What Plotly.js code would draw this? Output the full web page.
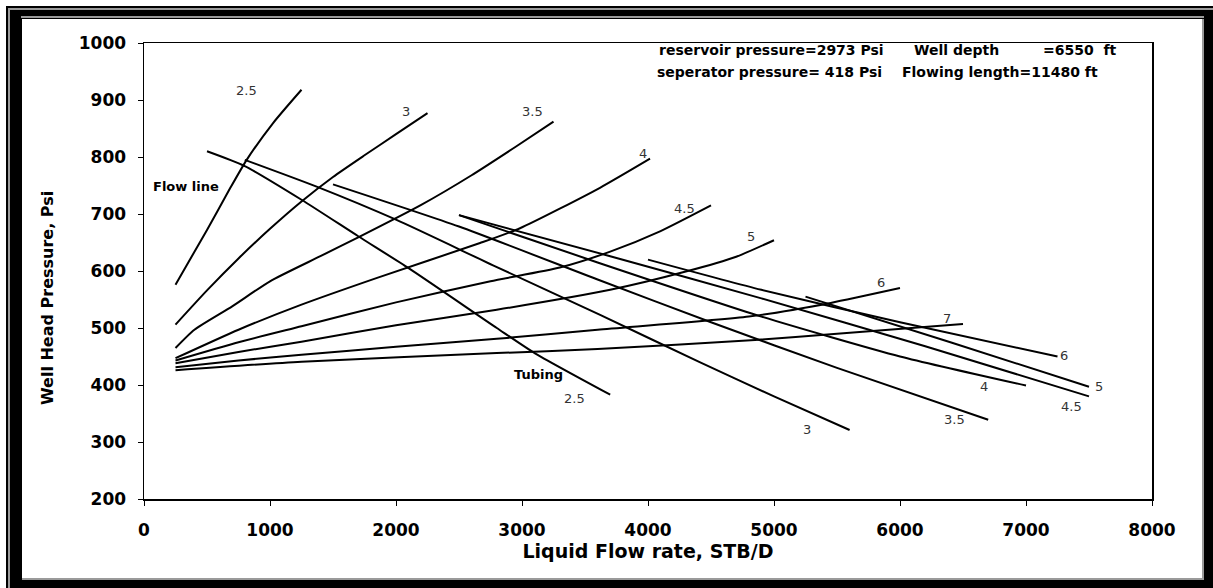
<!DOCTYPE html>
<html>
<head>
<meta charset="utf-8">
<script src="https://cdn.plot.ly/plotly-3.0.1.min.js"></script>
<style>
  html, body { margin: 0; padding: 0; background: #fff; }
  #stage { position: relative; width: 1213px; height: 588px; overflow: hidden; background: #fff; }
  .fr { position: absolute; box-sizing: border-box; }
  #outer { left: 6px; top: 6px; right: 0; bottom: 0; background: #000; }
  #g1 { left: 8px; top: 8px; right: 0; bottom: 0; border-left: 2px solid #9a9a9a; border-top: 2px solid #9a9a9a; }
  #g2 { left: 21px; top: 16px; right: 9px; height: 2px; background: #9a9a9a; }
  #inner { left: 22px; top: 19px; width: 1182px; height: 561px; background: #fff; border-right: 2px solid #9a9a9a; border-bottom: 2px solid #9a9a9a; }
  #chart { position: absolute; left: 0; top: 0; width: 1213px; height: 588px; }
</style>
</head>
<body>
<div id="stage">
  <div class="fr" id="outer"></div>
  <div class="fr" id="g1"></div>
  <div class="fr" id="g2"></div>
  <div class="fr" id="inner"></div>
  <div id="chart"></div>
</div>
<script>
// ---- Flow line curves (required well head pressure vs rate) ----
const flow25Q = [250, 500, 683, 815, 1026, 1250];
const flow25P = [576, 672, 745, 795, 860, 918];
const flow3Q  = [250, 500, 750, 1000, 1250, 1500, 1750, 2000, 2250];
const flow3P  = [506, 566, 622, 674, 722, 765, 803, 840, 877];
const flow35Q = [250, 400, 700, 1000, 1400, 1700, 2200, 2600, 2950, 3250];
const flow35P = [465, 497, 538, 582, 626, 659, 716, 768, 818, 862];
const flow4Q  = [250, 750, 1250, 1850, 2667, 2984, 3619, 4016];
const flow4P  = [447, 497, 541, 588, 649, 675, 746, 797];
const flow45Q = [250, 750, 1250, 2000, 2750, 3300, 3700, 4100, 4500];
const flow45P = [443, 475, 503, 545, 582, 606, 634, 670, 715];
const flow5Q  = [250, 750, 1250, 2000, 2800, 3700, 4300, 4700, 5000];
const flow5P  = [438, 458, 476, 505, 532, 567, 599, 625, 654];
const flow6Q  = [250, 750, 1250, 2000, 2800, 3600, 4800, 5450, 6000];
const flow6P  = [431, 443, 453, 467, 481, 497, 520, 544, 570];
const flow7Q  = [250, 1250, 2800, 3600, 4850, 5500, 6500];
const flow7P  = [426, 441, 456, 463, 479, 490, 507];

// ---- Tubing curves (available well head pressure vs rate) ----
const tub25Q = [500, 800, 1250, 1700, 2100, 2800, 3100, 3700];
const tub25P = [810, 784, 725, 661, 605, 500, 456, 383];
const tub3Q  = [800, 1370, 2000, 2770, 3620, 4410, 5000, 5600];
const tub3P  = [795, 748, 690, 610, 523, 440, 380, 321];
const tub35Q = [1500, 2500, 3600, 4500, 5500, 6700];
const tub35P = [752, 678, 585, 510, 430, 339];
const tub4Q  = [2500, 3600, 4900, 6000, 7000];
const tub4P  = [698, 615, 520, 450, 399];
const tub45Q = [2500, 3700, 4900, 6200, 7500];
const tub45P = [698, 626, 552, 468, 380];
const tub5Q  = [5250, 6400, 7500];
const tub5P  = [555, 475, 397];
const tub6Q  = [4000, 4900, 6000, 7250];
const tub6P  = [620, 567, 510, 450];

// ---- Curve labels (pipe size, inches) ----
const flowLabels = ['2.5', '3', '3.5', '4', '4.5', '5', '6', '7'];
const tubLabels  = ['2.5', '3', '3.5', '4', '4.5', '5', '6'];

// ---- Axis ticks ----
const xTicks = [0, 1000, 2000, 3000, 4000, 5000, 6000, 7000, 8000];
const yTicks = [200, 300, 400, 500, 600, 700, 800, 900, 1000];

// ---- Well data note ----
const noteTexts = ['reservoir pressure=2973 Psi', 'Well depth', '=6550\u00A0\u00A0ft',
                   'seperator pressure=\u00A0418 Psi', 'Flowing length=11480 ft'];

const flowSets = [[flow25Q, flow25P], [flow3Q, flow3P], [flow35Q, flow35P], [flow4Q, flow4P],
                  [flow45Q, flow45P], [flow5Q, flow5P], [flow6Q, flow6P], [flow7Q, flow7P]];
const tubSets  = [[tub25Q, tub25P], [tub3Q, tub3P], [tub35Q, tub35P], [tub4Q, tub4P],
                  [tub45Q, tub45P], [tub5Q, tub5P], [tub6Q, tub6P]];

const traces = [];
flowSets.forEach((s, i) => traces.push({
  x: s[0], y: s[1], type: 'scatter', mode: 'lines', name: 'Flow line ' + flowLabels[i],
  line: {color: '#000', width: 2, shape: 'spline', smoothing: 0.6}, hoverinfo: 'skip'
}));
tubSets.forEach((s, i) => traces.push({
  x: s[0], y: s[1], type: 'scatter', mode: 'lines', name: 'Tubing ' + tubLabels[i],
  line: {color: '#000', width: 2, shape: 'spline', smoothing: 0.6}, hoverinfo: 'skip'
}));

const labFont = {family: 'DejaVu Sans, sans-serif', size: 13, color: '#333'};
// label anchor points in data units, same order as the label arrays
const flowLabelAt = [[817, 917], [2077, 880], [3085, 880], [3963, 806], [4286, 709], [4815, 661], [5849, 580], [6370, 517]];
const tubLabelAt  = [[3413, 377], [5265, 322], [6429, 340], [6667, 397], [7362, 363], [7582, 397], [7302, 451]];

const annotations = [];
flowLabels.forEach((t, i) => annotations.push({x: flowLabelAt[i][0], y: flowLabelAt[i][1], text: t,
  showarrow: false, font: labFont, xanchor: 'center', yanchor: 'middle'}));
tubLabels.forEach((t, i) => annotations.push({x: tubLabelAt[i][0], y: tubLabelAt[i][1], text: t,
  showarrow: false, font: labFont, xanchor: 'center', yanchor: 'middle'}));

const boldSmall = {family: 'DejaVu Sans, sans-serif', size: 13, color: '#000', weight: 'bold'};
annotations.push({x: 332, y: 748, text: 'Flow line', showarrow: false, font: boldSmall, xanchor: 'center', yanchor: 'middle'});
annotations.push({x: 3127, y: 418, text: 'Tubing', showarrow: false, font: boldSmall, xanchor: 'center', yanchor: 'middle'});

const noteFont = {family: 'DejaVu Sans, sans-serif', size: 14, color: '#000', weight: 'bold'};
const notePos = [[4071, 988], [6095, 988], [7119, 988], [4056, 950], [6000, 950]];
noteTexts.forEach((t, i) => annotations.push({x: notePos[i][0], y: notePos[i][1], text: t,
  showarrow: false, font: noteFont, xanchor: 'left', yanchor: 'middle'}));

// y-axis title placed as a rotated annotation (centre of the reference title)
annotations.push({xref: 'paper', yref: 'paper', x: (47 - 144) / 1008, y: (499 - 298) / 456,
  text: 'Well Head Pressure, Psi', textangle: -90, showarrow: false,
  font: {family: 'DejaVu Sans, sans-serif', size: 16, color: '#000', weight: 'bold'},
  xanchor: 'center', yanchor: 'middle'});

const layout = {
  width: 1213, height: 588,
  margin: {l: 144, r: 61, t: 43, b: 89},
  paper_bgcolor: 'rgba(0,0,0,0)', plot_bgcolor: '#fff',
  showlegend: false,
  font: {family: 'DejaVu Sans, sans-serif', color: '#000'},
  xaxis: {
    range: [0, 8000], tickvals: xTicks, ticktext: xTicks.map(String),
    showgrid: false, zeroline: false, showline: true, mirror: true,
    linecolor: '#000', linewidth: 1.5, ticks: 'outside', ticklen: 5, tickcolor: '#000', tickwidth: 1,
    tickfont: {family: 'DejaVu Sans, sans-serif', size: 17, color: '#000', weight: 'bold'},
    ticklabelstandoff: 10,
    title: {text: 'Liquid Flow rate, STB/D', standoff: 6,
            font: {family: 'DejaVu Sans, sans-serif', size: 19, color: '#000', weight: 'bold'}}
  },
  yaxis: {
    range: [200, 1000], tickvals: yTicks, ticktext: yTicks.map(String),
    showgrid: false, zeroline: false, showline: true, mirror: true,
    linecolor: '#000', linewidth: 1.5, ticks: 'outside', ticklen: 5, tickcolor: '#000', tickwidth: 1,
    tickfont: {family: 'DejaVu Sans, sans-serif', size: 17, color: '#000', weight: 'bold'},
    ticklabelstandoff: 8
  },
  annotations: annotations
};

Plotly.newPlot('chart', traces, layout, {staticPlot: true, displayModeBar: false});
</script>
</body>
</html>
